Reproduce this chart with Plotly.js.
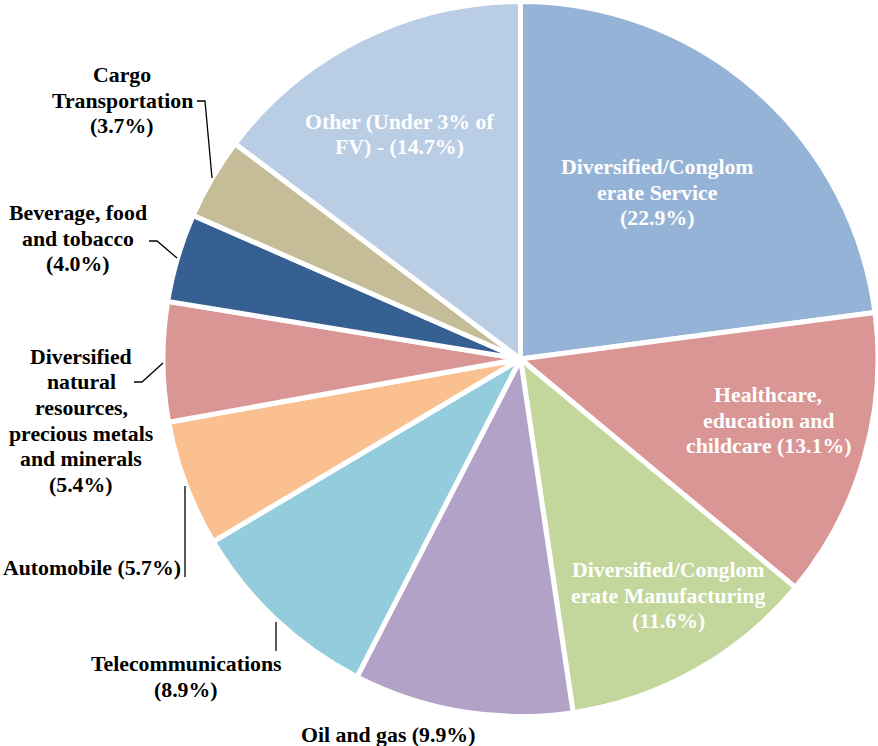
<!DOCTYPE html>
<html>
<head>
<meta charset="utf-8">
<script src="https://cdn.plot.ly/plotly-3.0.1.min.js"></script>
<style>html,body{margin:0;padding:0;background:#fff;}#chart{width:878px;height:746px;}</style>
</head>
<body>
<div id="chart"></div>
<script>
// ---- data ----
const categories = [
  "Diversified/Conglomerate Service",
  "Healthcare, education and childcare",
  "Diversified/Conglomerate Manufacturing",
  "Oil and gas",
  "Telecommunications",
  "Automobile",
  "Diversified natural resources, precious metals and minerals",
  "Beverage, food and tobacco",
  "Cargo Transportation",
  "Other (Under 3% of FV)"
];
const values = [22.9, 13.1, 11.6, 9.9, 8.9, 5.7, 5.4, 4.0, 3.7, 14.7];
const labelTexts = [
  "Diversified/Conglom|erate Service|({p}%)",
  "Healthcare,|education and|childcare ({p}%)",
  "Diversified/Conglom|erate Manufacturing|({p}%)",
  "Oil and gas ({p}%)",
  "Telecommunications|({p}%)",
  "Automobile ({p}%)",
  "Diversified|natural|resources,|precious metals|and minerals|({p}%)",
  "Beverage, food|and tobacco|({p}%)",
  "Cargo|Transportation|({p}%)",
  "Other (Under 3% of|FV) - ({p}%)"
];

// ---- styles / layout ----
const colors = ["#95B3D7","#D99694","#C3D69B","#B3A2C7","#93CDDD","#FAC090","#D99694","#366092","#C4BD97","#B9CDE5"];
const textColors = ["#fff","#fff","#fff","#000","#000","#000","#000","#000","#000","#fff"];
// label centre x, first-line y (pixels)
const labelPos = [
  [657,167],[768,395],[668,570],[388,735],[186,664],[92,568],[81,357],[78,213],[122,75],[399,122]
];
const lineStep = 25.5;
const W = 878, H = 746;
const px = x => x / W, py = y => 1 - y / H;

const leaders = [
  [[197,101],[205,101],[212,178]],
  [[149,241],[157,241],[177,258]],
  [[134,382],[142,382],[163,363]],
  [[185,486],[185,577]],
  [[276,622],[276,651]]
];

const annotations = [];
labelTexts.forEach((t, i) => {
  const lines = t.replace("{p}", values[i].toFixed(1)).split("|");
  lines.forEach((ln, j) => {
    annotations.push({
      xref: "paper", yref: "paper",
      x: px(labelPos[i][0]), y: py(labelPos[i][1] + j * lineStep),
      xanchor: "center", yanchor: "middle",
      text: "<b>" + ln + "</b>", showarrow: false,
      font: {family: "Times New Roman", size: 21.8, color: textColors[i]}
    });
  });
});

const shapes = leaders.map(pts => ({
  type: "path", xref: "paper", yref: "paper",
  path: pts.map((p, k) => (k ? "L" : "M") + px(p[0]) + "," + py(p[1])).join(" "),
  line: {color: "#000", width: 1.3}
}));

const cx = 521, cy = 359, r = 358;
const trace = {
  type: "pie",
  labels: categories,
  values: values,
  sort: false,
  direction: "clockwise",
  rotation: 0,
  textinfo: "none",
  hoverinfo: "none",
  marker: {colors: colors, line: {color: "#fff", width: 5}},
  domain: {x: [px(cx - r), Math.min(1, px(cx + r))], y: [py(cy + r), Math.min(1, py(cy - r))]},
  showlegend: false
};

Plotly.newPlot("chart", [trace], {
  width: W, height: H,
  margin: {l: 0, r: 0, t: 0, b: 0},
  paper_bgcolor: "#fff",
  showlegend: false,
  font: {family: "Times New Roman"},
  annotations: annotations,
  shapes: shapes
}, {displayModeBar: false, staticPlot: true});
</script>
</body>
</html>
